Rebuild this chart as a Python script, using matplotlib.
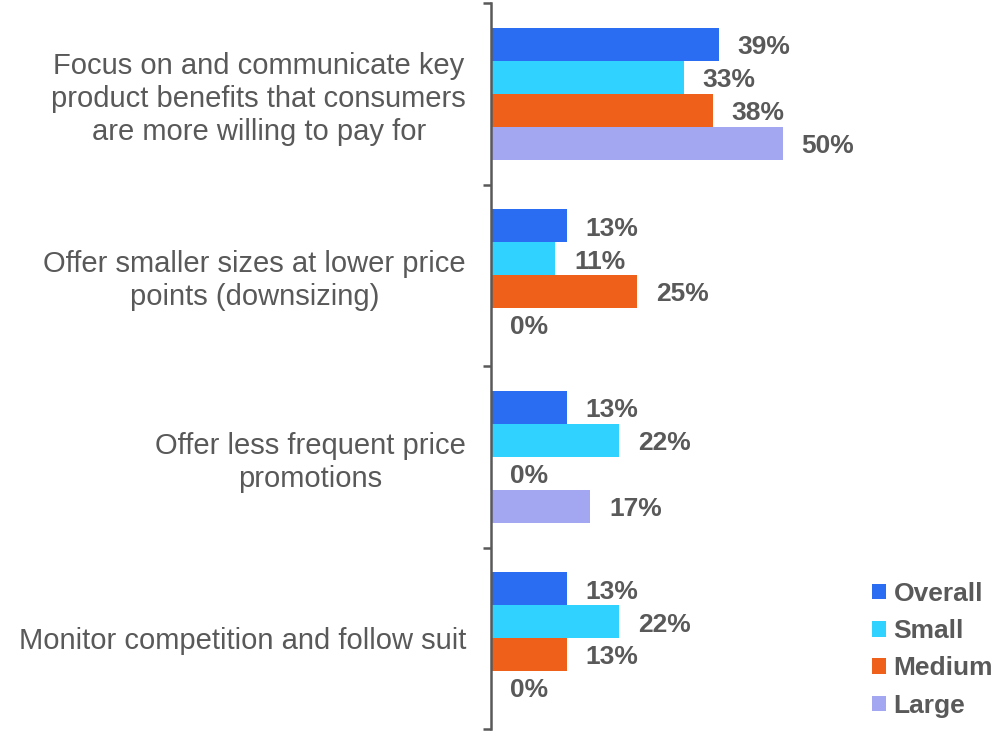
import matplotlib
matplotlib.use("Agg")
import matplotlib.pyplot as plt
import numpy as np

plt.rcParams['font.family'] = ['Liberation Sans', 'DejaVu Sans']

categories = [
    "Focus on and communicate key\nproduct benefits that consumers\nare more willing to pay for",
    "Offer smaller sizes at lower price\npoints (downsizing)",
    "Offer less frequent price\npromotions",
    "Monitor competition and follow suit",
]
series_names = ["Overall", "Small", "Medium", "Large"]
overall = [39, 13, 13, 13]
small = [33, 11, 22, 22]
medium = [38, 25, 0, 13]
large = [50, 0, 17, 0]
colors = ["#2B6DF2", "#30D2FF", "#EF601B", "#A3A7F2"]

series = [overall, small, medium, large]
text_color = "#595959"

fig = plt.figure(figsize=(9.93, 7.31), dpi=100)
W, H = 993, 731
ax = fig.add_axes([491 / W, 2 / H, 500 / W, 726 / H])

n_cat = len(categories)
bar_h = 0.1815
y_base = np.arange(n_cat)
for i, (name, vals, col) in enumerate(zip(series_names, series, colors)):
    ys = y_base + (i - 1.5) * bar_h
    ax.barh(ys, vals, height=bar_h, color=col, label=name, linewidth=0)
    for y, v in zip(ys, vals):
        ax.text(v + 3.2, y + 0.015, f"{v}%", ha="left", va="center",
                fontsize=19, fontweight="bold", color=text_color)

ax.set_ylim(n_cat - 0.5, -0.5)
ax.set_xlim(0, 500 / 5.84)
ax.set_yticks(np.arange(n_cat + 1) - 0.5)
ax.set_yticklabels([])
ax.set_yticks(y_base, minor=True)
ax.set_yticklabels(categories, minor=True, fontsize=21, color=text_color,
                   multialignment="center", linespacing=1.22)
ax.tick_params(axis="y", which="major", length=6, width=1.8, color="#595959", direction="out")
ax.tick_params(axis="y", which="minor", length=0, pad=18)
ax.set_xticks([])
for s in ["top", "right", "bottom"]:
    ax.spines[s].set_visible(False)
ax.spines["left"].set_color("#595959")
ax.spines["left"].set_linewidth(1.8)

leg = fig.legend(loc="upper left", bbox_to_anchor=(872 / W, 1 - 582 / H),
                 frameon=False, borderpad=0, borderaxespad=0,
                 handlelength=0.52, handleheight=0.52,
                 handletextpad=0.3, labelspacing=0.5,
                 prop={"size": 19, "weight": "bold"})
for t in leg.get_texts():
    t.set_color(text_color)

fig.savefig("out.png", dpi=100)
